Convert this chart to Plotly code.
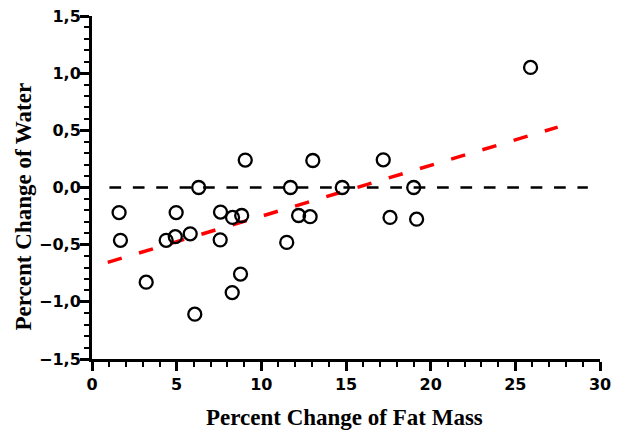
import plotly.graph_objects as go

# Scatter data (percent change of fat mass vs percent change of water)
fat_mass = [25.9, 9.05, 13.04, 17.2, 6.3, 11.72, 14.78, 19.0, 1.6, 1.68,
            3.2, 4.38, 4.97, 4.92, 5.8, 6.07, 7.59, 7.57, 8.3, 8.84,
            8.77, 8.28, 11.5, 12.2, 12.88, 17.6, 19.17]
water = [1.05, 0.24, 0.236, 0.242, 0.0, 0.0, 0.0, 0.0, -0.219, -0.462,
         -0.828, -0.462, -0.219, -0.43, -0.405, -1.108, -0.215, -0.458, -0.262, -0.245,
         -0.757, -0.919, -0.48, -0.245, -0.255, -0.262, -0.277]

# Regression line end points
trend_x = [0.93, 27.5]
trend_y = [-0.655, 0.528]

# Zero reference line
zero_x = [1.03, 29.28]
zero_y = [0.0, 0.0]

x_ticks = [0, 5, 10, 15, 20, 25, 30]
y_ticks = [-1.5, -1.0, -0.5, 0.0, 0.5, 1.0, 1.5]

fig = go.Figure()
fig.add_trace(go.Scatter(x=zero_x, y=zero_y, mode="lines",
                         line=dict(color="black", width=2.5, dash="11.7px,11.7px"),
                         hoverinfo="skip"))
fig.add_trace(go.Scatter(x=trend_x, y=trend_y, mode="lines",
                         line=dict(color="#ff0000", width=3.5, dash="14.6px,18px"),
                         hoverinfo="skip"))
fig.add_trace(go.Scatter(x=fat_mass, y=water, mode="markers",
                         marker=dict(symbol="circle-open", size=13, color="black",
                                     line=dict(width=2.3, color="black")),
                         cliponaxis=False))

tick_font = dict(family="Arial Black, DejaVu Sans, sans-serif", size=16, color="black", weight=800)
title_font = dict(family="Liberation Serif, Times New Roman, serif", size=23, color="black", weight="bold")

fig.update_layout(
    width=619, height=431,
    margin=dict(l=92, r=19, t=16, b=72),
    paper_bgcolor="white", plot_bgcolor="white",
    showlegend=False,
    separators=",.",
    xaxis=dict(range=[0, 30], tickvals=x_ticks, tickformat="d",
               showline=True, linewidth=3, linecolor="black",
               ticks="outside", ticklen=9, tickwidth=3, tickcolor="black",
               minor=dict(dtick=1, ticks="outside", ticklen=5, tickwidth=2, tickcolor="black"),
               showgrid=False, zeroline=False, tickfont=tick_font,
               ticklabelstandoff=0, automargin=False),
    yaxis=dict(range=[-1.5, 1.5], tickvals=y_ticks, tickformat=".1f",
               showline=True, linewidth=3, linecolor="black",
               ticks="outside", ticklen=9, tickwidth=3, tickcolor="black",
               minor=dict(dtick=0.1, ticks="outside", ticklen=5, tickwidth=2, tickcolor="black"),
               showgrid=False, zeroline=False, tickfont=tick_font,
               ticklabelstandoff=-4, automargin=False),
    annotations=[
        dict(text="Percent Change of Fat Mass", xref="paper", yref="paper",
             x=0.4975, y=-0.172, xanchor="center", yanchor="middle",
             showarrow=False, font=title_font),
        dict(text="Percent Change of Water", xref="paper", yref="paper",
             x=-0.135, y=0.446, xanchor="center", yanchor="middle", textangle=-90,
             showarrow=False, font=title_font),
    ],
)

fig.write_html("out.html")
